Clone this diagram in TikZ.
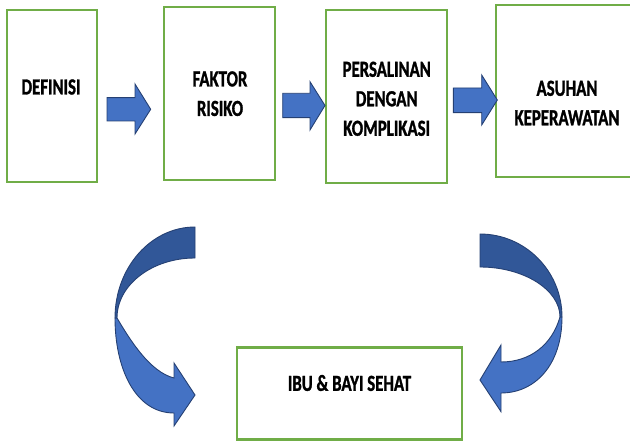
\documentclass[tikz,border=0pt]{standalone}
\usepackage{fontspec}
\setmainfont{Carlito}[FakeStretch=0.73,BoldFeatures={FakeBold=1.2}]
\definecolor{boxgreen}{RGB}{112,173,71}
\definecolor{arrowblue}{RGB}{68,114,196}
\definecolor{arrowdark}{RGB}{49,87,152}
\definecolor{arrowline}{RGB}{37,64,115}
\begin{document}
\begin{tikzpicture}[x=1pt,y=-1pt,
  stepbox/.style={draw=boxgreen,line width=2.5pt,fill=white,inner sep=0pt},
  lbl/.style={font=\fontsize{23}{29.5}\selectfont\bfseries,align=center,inner sep=0pt,text=black},
  blockarrow/.style={fill=arrowblue,draw=arrowline,line width=0.9pt,line join=miter},
  ribbondark/.style={fill=arrowdark,draw=arrowline,line width=0.9pt},
  ribbonlight/.style={fill=arrowblue,draw=arrowline,line width=0.9pt}]
\useasboundingbox (0,0) rectangle (630,441);
% boxes
\node[stepbox,minimum width=90pt,minimum height=172pt] (b1) at (52,96) {};
\node[stepbox,minimum width=111pt,minimum height=173pt] (b2) at (219.5,93.5) {};
\node[stepbox,minimum width=121pt,minimum height=173pt] (b3) at (386.5,96.5) {};
\node[stepbox,minimum width=140pt,minimum height=172pt] (b4) at (566,91) {};
\node[stepbox,minimum width=225pt,minimum height=92pt] (b5) at (349.5,393.5) {};
% texts
\node[lbl] (t1) at (51,87) {DEFINISI};
\node[lbl] (t2) at (220,93.7) {FAKTOR\\RISIKO};
\node[lbl] (t3) at (386.7,98.8) {PERSALINAN\\DENGAN\\KOMPLIKASI};
\node[lbl] (t4) at (567,103) {ASUHAN\\KEPERAWATAN};
\node[lbl] (t5) at (349.5,383) {IBU \& BAYI SEHAT};
% straight block arrows
\draw[blockarrow] (107,97.7) -- (135,97.7) -- (135,84) -- (150.7,109.3) -- (135,134) -- (135,121) -- (107,121) -- cycle;
\draw[blockarrow] (282.7,93.3) -- (310,93.3) -- (310,81.7) -- (325,105.5) -- (310,130) -- (310,117.7) -- (282.7,117.7) -- cycle;
\draw[blockarrow] (453.3,88) -- (481.7,88) -- (481.7,75) -- (497.3,100) -- (481.7,125) -- (481.7,112.7) -- (453.3,112.7) -- cycle;
% left curved arrow
\draw[ribbonlight] (115,318) .. controls (115,368) and (135,413) .. (174,413)
  -- (174,426) -- (195,395) -- (174,363) -- (174,378)
  .. controls (150,372) and (130,340) .. (117,318) -- cycle;
\draw[ribbondark] (195,227) .. controls (150.8,227) and (115,267.8) .. (115,318)
  -- (117,318) .. controls (117,284.9) and (152,258) .. (195,258) -- cycle;
% right curved arrow
\draw[ribbonlight] (562,317) .. controls (562,365) and (535,393) .. (501,393)
  -- (501,411.7) -- (480,380) -- (501,345) -- (501,362)
  .. controls (530,362) and (552,345) .. (560,317) -- cycle;
\draw[ribbondark] (480,234) .. controls (525,234) and (562,271) .. (562,317)
  -- (560,317) .. controls (560,290) and (524,267) .. (480,267) -- cycle;
\end{tikzpicture}
\end{document}
